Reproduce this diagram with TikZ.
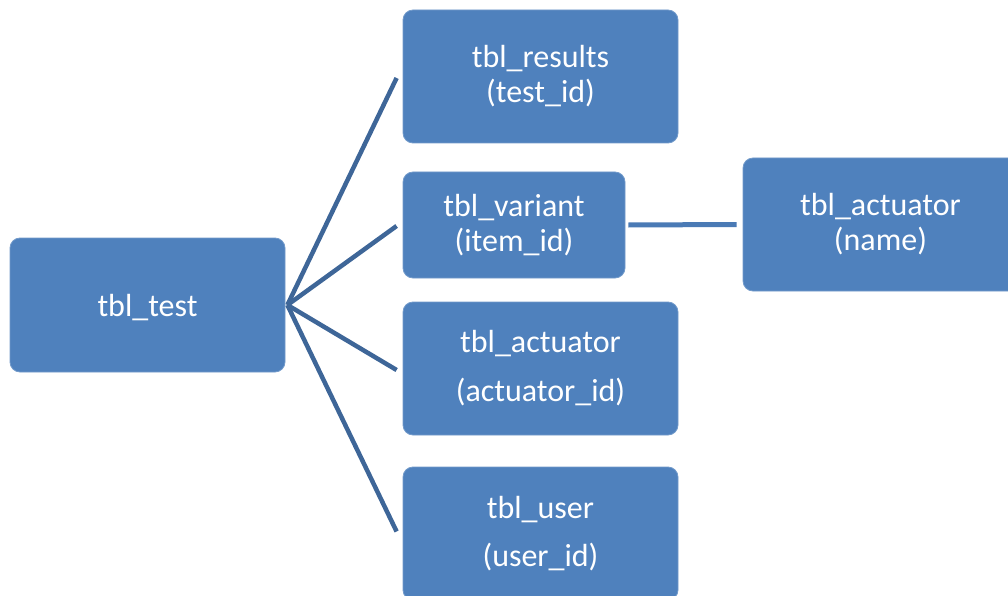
\documentclass[tikz,border=0pt]{standalone}
\usepackage{fontspec}
\setmainfont{Carlito}
\usetikzlibrary{calc}
\definecolor{boxblue}{HTML}{4F81BD}
\definecolor{linkdark}{HTML}{3E6698}
\definecolor{linkblue}{HTML}{4A7AB5}
\tikzset{
  tbl/.style={rectangle, rounded corners=10pt, fill=boxblue, draw=boxblue!80!white, line width=0.8pt,
    text=white, align=center, inner sep=0pt, font=\fontsize{32}{35}\selectfont,
    execute at begin node={\rule{0pt}{28pt}}},
  link/.style={draw=linkdark, line width=4.5pt},
  hlink/.style={draw=linkblue, line width=5pt},
}
\begin{document}
\begin{tikzpicture}[x=1pt,y=-1pt]
\useasboundingbox (0,0) rectangle (1008,596);
\node[tbl, minimum width=275pt, minimum height=134pt] (test) at (147.5,305) {tbl\_test};
\node[tbl, minimum width=275pt, minimum height=133pt] (results) at (540.5,76.5) {tbl\_results\\(test\_id)};
\node[tbl, minimum width=222pt, minimum height=106pt] (variant) at (514,225) {tbl\_variant\\(item\_id)};
\node[tbl, minimum width=275pt, minimum height=133pt] (act2) at (880.5,224.5) {tbl\_actuator\\(name)};
\node[tbl, minimum width=275pt, minimum height=133pt, font=\fontsize{32}{49}\selectfont] (act1) at (540.5,368.5) {tbl\_actuator\\(actuator\_id)};
\node[tbl, minimum width=275pt, minimum height=133pt, font=\fontsize{32}{48}\selectfont] (user) at (540.5,533.5) {tbl\_user\\(user\_id)};
\coordinate (hub) at ($(test.east)+(2,0)$);
\draw[link] (hub) -- ($(results.west)+(-6,1.5)$);
\draw[link] (hub) -- ($(variant.west)+(-6,1)$);
\draw[link] (hub) -- ($(act1.west)+(-6,1.5)$);
\draw[link] (hub) -- ($(user.west)+(-6,-2)$);
\draw[hlink] ($(variant.east)+(3,0)$) -- ($(act2.west)+(-6,0)$);
\end{tikzpicture}
\end{document}
